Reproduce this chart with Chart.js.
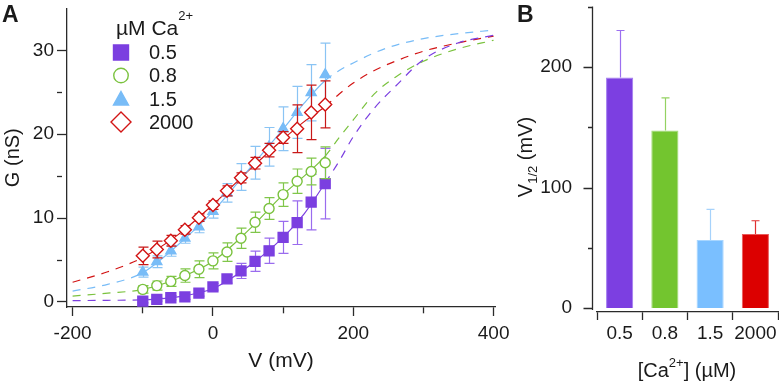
<!DOCTYPE html>
<html>
<head>
<meta charset="utf-8">
<script src="https://cdn.jsdelivr.net/npm/chart.js@4.4.1/dist/chart.umd.min.js"></script>
<style>
  html, body { margin: 0; padding: 0; background: #fff; }
  #wrap { position: relative; width: 779px; height: 381px; overflow: hidden; }
  canvas { position: absolute; top: 0; }
  #left { left: 0; }
  #right { left: 500px; }
</style>
</head>
<body>
<div id="wrap">
  <canvas id="left" width="520" height="381"></canvas>
  <canvas id="right" width="279" height="381"></canvas>
</div>
<script>
// ---- panel A: G-V data (mean +/- sem) ----
const voltages = [-100, -80, -60, -40, -20, 0, 20, 40, 60, 80, 100, 120, 140, 160];
const g05   = [0.1, 0.3, 0.5, 0.6, 1.05, 1.8, 2.75, 3.7, 4.85, 6.1, 7.7, 9.45, 11.9, 14.1];
const err05 = [0.2, 0.2, 0.25, 0.3, 0.35, 0.4, 0.5, 0.9, 1.2, 1.5, 1.9, 2.6, 3.3, 4.2];
const g08   = [1.5, 1.95, 2.45, 3.15, 3.9, 4.9, 5.95, 7.6, 9.5, 11.15, 12.8, 14.4, 15.55, 16.6];
const err08 = [0.45, 0.55, 0.6, 0.8, 1.0, 0.95, 1.1, 1.2, 1.2, 1.3, 1.4, 1.45, 1.6, 1.9];
const g15   = [3.55, 4.8, 6.1, 7.6, 8.95, 10.8, 13.0, 14.9, 16.6, 18.5, 20.65, 22.6, 24.95, 27.1];
const err15 = [0.6, 0.7, 0.65, 0.6, 0.7, 0.8, 1.1, 1.6, 1.95, 2.3, 2.6, 3.1, 3.35, 3.75];
const g2000   = [5.5, 6.25, 7.3, 8.6, 10.05, 11.55, 13.25, 14.8, 16.55, 18.1, 19.6, 20.65, 22.6, 23.55];
const err2000 = [1.05, 1.0, 0.65, 0.5, 0.45, 0.5, 0.6, 0.6, 0.7, 0.8, 0.7, 2.85, 3.25, 2.8];

// Boltzmann fit curves
const fitV    = [-200, -150, -100, -50, 0, 50, 100, 130, 160, 180, 200, 230, 260, 300, 350, 400];
const fit05   = [0.15, 0.2, 0.25, 0.6, 1.6, 4.2, 7.7, 10.5, 14.2, 16.8, 19.7, 23.1, 25.7, 28.9, 30.9, 31.8];
const fit08   = [0.7, 1.05, 1.5, 2.8, 4.85, 8.5, 12.8, 15.0, 17.4, 19.6, 21.7, 24.8, 26.8, 28.7, 30.2, 31.2];
const fit15   = [1.3, 2.1, 3.5, 6.8, 10.8, 15.7, 20.6, 23.7, 26.4, 27.6, 28.5, 29.7, 30.6, 31.4, 32.0, 32.4];
const fit2000 = [2.35, 3.6, 5.3, 8.0, 11.6, 15.6, 19.4, 21.5, 23.3, 24.8, 26.1, 27.6, 28.7, 29.9, 30.9, 31.7];

const xTicksA = [-200, -100, 0, 100, 200, 300, 400];
const yTicksA = [0, 5, 10, 15, 20, 25, 30];

// ---- panel B: V1/2 per [Ca2+] ----
const concLabels = ['0.5', '0.8', '1.5', '2000'];
const vHalf    = [191.5, 147.5, 56.5, 61.5];
const vHalfErr = [39, 27, 25.5, 11];
const yTicksB  = [0, 50, 100, 150, 200, 250];

const FONT = "'Liberation Sans', Arial, sans-serif";
const INK = '#1a1a1a';
const AXIS = '#2a2a2a';

const purple = '#7b3fe0', green = '#7ac23e', blue = '#78bcf7', red = '#d21414';
const series = [
  { style: 'rect',     color: purple, fill: purple,  err: '#9a6cee' },
  { style: 'circle',   color: green,  fill: '#fff',  err: '#80c64a' },
  { style: 'triangle', color: blue,   fill: blue,    err: '#8ac4f4' },
  { style: 'rectRot',  color: red,    fill: '#fff',  err: '#c81818' }
];

const pts = (xs, ys) => xs.map((x, i) => ({ x: x, y: ys[i] }));

// draws text pieces (with super/subscripts) centred or left-aligned at x,y
function richText(ctx, parts, x, y, rot, align) {
  ctx.save();
  ctx.translate(x, y);
  ctx.rotate(rot || 0);
  let w = 0;
  parts.forEach(p => {
    ctx.font = p.size + 'px ' + FONT;
    p.w = ctx.measureText(p.t).width;
    w += p.w;
  });
  let cx = align === 'left' ? 0 : -w / 2;
  ctx.fillStyle = INK;
  ctx.textAlign = 'left';
  ctx.textBaseline = 'alphabetic';
  parts.forEach(p => {
    ctx.font = p.size + 'px ' + FONT;
    ctx.fillText(p.t, cx, p.dy || 0);
    cx += p.w;
  });
  ctx.restore();
}

function drawMarker(ctx, style, x, y, s, stroke, fill) {
  ctx.beginPath();
  if (style === 'rect') ctx.rect(x - s / 2, y - s / 2, s, s);
  else if (style === 'circle') ctx.arc(x, y, s / 2, 0, Math.PI * 2);
  else if (style === 'triangle') {
    ctx.moveTo(x, y - s * 0.5);
    ctx.lineTo(x + s / 2, y + s * 0.4);
    ctx.lineTo(x - s / 2, y + s * 0.4);
    ctx.closePath();
  } else {
    ctx.moveTo(x, y - s / 2);
    ctx.lineTo(x + s / 2, y);
    ctx.lineTo(x, y + s / 2);
    ctx.lineTo(x - s / 2, y);
    ctx.closePath();
  }
  ctx.fillStyle = fill;
  ctx.fill();
  ctx.lineWidth = 1.4;
  ctx.strokeStyle = stroke;
  ctx.stroke();
}

// error bars, drawn just before each dataset so markers sit on top
const errorBars = {
  id: 'errorBars',
  beforeDatasetDraw(chart, args) {
    const ds = chart.data.datasets[args.index];
    if (!ds.errors) return;
    const ctx = chart.ctx, ys = chart.scales.y;
    ctx.save();
    ctx.lineWidth = 1.2;
    args.meta.data.forEach((el, i) => {
      const d = ds.data[i];
      const v = typeof d === 'object' ? d.y : d;
      const e = ds.errors[i];
      const top = ys.getPixelForValue(v + e);
      const bot = ys.getPixelForValue(ds.upOnly ? v : v - e);
      const x = Math.round(el.x) + 0.5;
      ctx.strokeStyle = Array.isArray(ds.errorColor) ? ds.errorColor[i] : ds.errorColor;
      ctx.beginPath();
      ctx.moveTo(x, top); ctx.lineTo(x, bot);
      ctx.moveTo(x - ds.cap, top); ctx.lineTo(x + ds.cap, top);
      if (!ds.upOnly) { ctx.moveTo(x - ds.cap, bot); ctx.lineTo(x + ds.cap, bot); }
      ctx.stroke();
    });
    ctx.restore();
  }
};

const dashOutside = ctx => (ctx.p0.parsed.x < -100 || ctx.p1.parsed.x > 160) ? [8, 7] : undefined;

function fitSet(data, color) {
  return {
    data: pts(fitV, data), showLine: true, borderColor: color, borderWidth: 1.2,
    pointRadius: 0, pointHoverRadius: 0, cubicInterpolationMode: 'monotone',
    segment: { borderDash: dashOutside }, order: 10
  };
}

function pointSet(data, errs, s, radius, order) {
  return {
    data: pts(voltages, data), showLine: false, pointStyle: s.style, pointRadius: radius,
    backgroundColor: s.fill, borderColor: s.color, borderWidth: 1.4,
    errors: errs, errorColor: s.err, cap: 5, order: order
  };
}

const panelA = {
  id: 'panelA',
  afterDraw(chart) {
    const ctx = chart.ctx;
    ctx.save();
    ctx.fillStyle = INK;
    ctx.font = 'bold 23px ' + FONT;
    ctx.fillText('A', 2, 22);
    ctx.restore();
    // legend
    richText(ctx, [{ t: '\u00b5M Ca', size: 21 }, { t: '2+', size: 13, dy: -15 }], 116, 35, 0, 'left');
    const rows = [52.5, 75.5, 99, 122];
    const sizes = [15, 14.5, 15, 20];
    series.forEach((s, i) => {
      drawMarker(ctx, s.style === 'rectRot' ? 'diamond' : s.style, 121, rows[i], sizes[i], s.color, s.fill);
      ctx.save();
      ctx.fillStyle = INK;
      ctx.font = '20px ' + FONT;
      ctx.textBaseline = 'middle';
      ctx.fillText(concLabels[i], 149, rows[i] + 1);
      ctx.restore();
    });
  }
};

new Chart(document.getElementById('left'), {
  type: 'scatter',
  data: {
    datasets: [
      fitSet(fit05, purple), fitSet(fit08, green), fitSet(fit15, blue), fitSet(fit2000, red),
      pointSet(g05, err05, series[0], 7, 4),
      pointSet(g08, err08, series[1], 5, 3),
      pointSet(g15, err15, series[2], 5.8, 2),
      pointSet(g2000, err2000, series[3], 6.5, 1)
    ]
  },
  options: {
    responsive: false, animation: false, devicePixelRatio: 1,
    layout: { padding: { left: 0, top: 0, right: 25, bottom: 0 } },
    plugins: { legend: { display: false }, tooltip: { enabled: false } },
    scales: {
      x: {
        type: 'linear', min: -208, max: 402,
        afterBuildTicks: s => { s.ticks = xTicksA.map(v => ({ value: v })); },
        afterFit: s => { s.height = 74; s.paddingLeft = 0; s.paddingRight = 0; },
        border: { color: AXIS, width: 1.3 },
        grid: {
          drawOnChartArea: false, tickLength: 9, tickColor: AXIS, tickWidth: 1.3,
          tickBorderDash: c => (c.tick && c.tick.value % 200 !== 0) ? [6, 40] : []
        },
        ticks: {
          color: INK, font: { size: 19, family: FONT }, padding: 6, maxRotation: 0, autoSkip: false,
          callback: v => (v % 200 === 0 ? v : '')
        },
        title: { display: true, text: 'V (mV)', color: INK, font: { size: 21, family: FONT }, padding: { top: 0, bottom: 7 } }
      },
      y: {
        min: -0.6, max: 35,
        afterBuildTicks: s => { s.ticks = yTicksA.map(v => ({ value: v })); },
        afterFit: s => { s.width = 67; s.paddingTop = 0; s.paddingBottom = 0; },
        border: { color: AXIS, width: 1.3 },
        grid: {
          drawOnChartArea: false, tickLength: 10, tickColor: AXIS, tickWidth: 1.3,
          tickBorderDash: c => (c.tick && c.tick.value % 10 !== 0) ? [5, 40] : []
        },
        ticks: {
          color: INK, font: { size: 19, family: FONT }, padding: 3, autoSkip: false,
          callback: v => (v % 10 === 0 ? v : '')
        },
        title: { display: true, text: 'G (nS)', color: INK, font: { size: 20, family: FONT }, padding: { top: 1, bottom: 0 } }
      }
    }
  },
  plugins: [errorBars, panelA]
});

// ---- panel B ----
const panelB = {
  id: 'panelB',
  afterDraw(chart) {
    const ctx = chart.ctx, ys = chart.scales.y, area = chart.chartArea;
    const ax = area.left - 4.5;
    ctx.save();
    ctx.strokeStyle = AXIS;
    ctx.lineWidth = 1.3;
    ctx.beginPath();
    ctx.moveTo(ax, ys.getPixelForValue(250) - 0.5);
    ctx.lineTo(ax, area.bottom - 2);
    yTicksB.forEach(v => {
      const y = Math.round(ys.getPixelForValue(v)) + 0.5;
      ctx.moveTo(ax, y);
      ctx.lineTo(ax - (v % 100 === 0 ? 9 : 4.5), y);
    });
    ctx.stroke();
    ctx.fillStyle = INK;
    ctx.font = 'bold 23px ' + FONT;
    ctx.fillText('B', 17, 22);
    ctx.restore();
    richText(ctx, [{ t: 'V', size: 20 }, { t: '1/2', size: 13, dy: 5 }, { t: ' (mV)', size: 20 }], 32, 157, -Math.PI / 2);
    richText(ctx, [{ t: '[Ca', size: 20 }, { t: '2+', size: 13, dy: -10 }, { t: '] (\u00b5M)', size: 20 }], 187, 377, 0);
  }
};

new Chart(document.getElementById('right'), {
  type: 'bar',
  data: {
    labels: concLabels,
    datasets: [{
      data: vHalf,
      backgroundColor: ['#7c3fe1', '#73c52f', '#7abfff', '#dc0000'],
      borderColor: ['#a27cf0', '#a2da78', '#a8d6ff', '#ea5a5a'],
      borderWidth: 1,
      barPercentage: 0.6, categoryPercentage: 1,
      errors: vHalfErr, upOnly: true, cap: 4,
      errorColor: ['#9c6ff0', '#94d262', '#a6d2fb', '#e03030']
    }]
  },
  options: {
    responsive: false, animation: false, devicePixelRatio: 1,
    layout: { padding: { left: 0, top: 7, right: 1, bottom: 0 } },
    plugins: { legend: { display: false }, tooltip: { enabled: false } },
    scales: {
      x: {
        afterFit: s => { s.height = 69; s.paddingLeft = 0; s.paddingRight = 0; },
        border: { color: AXIS, width: 1.3 },
        grid: { offset: true, drawOnChartArea: false, tickLength: 8, tickColor: AXIS, tickWidth: 1.3 },
        ticks: { color: INK, font: { size: 19, family: FONT }, padding: 2, maxRotation: 0, autoSkip: false }
      },
      y: {
        min: -3.3, max: 250,
        afterBuildTicks: s => { s.ticks = yTicksB.map(v => ({ value: v })); },
        afterFit: s => { s.width = 97; s.paddingTop = 0; s.paddingBottom = 0; },
        border: { display: false },
        grid: { display: false },
        ticks: {
          color: INK, font: { size: 19, family: FONT }, padding: 17, autoSkip: false,
          callback: v => (v % 100 === 0 ? v : '')
        }
      }
    }
  },
  plugins: [errorBars, panelB]
});
</script>
</body>
</html>
